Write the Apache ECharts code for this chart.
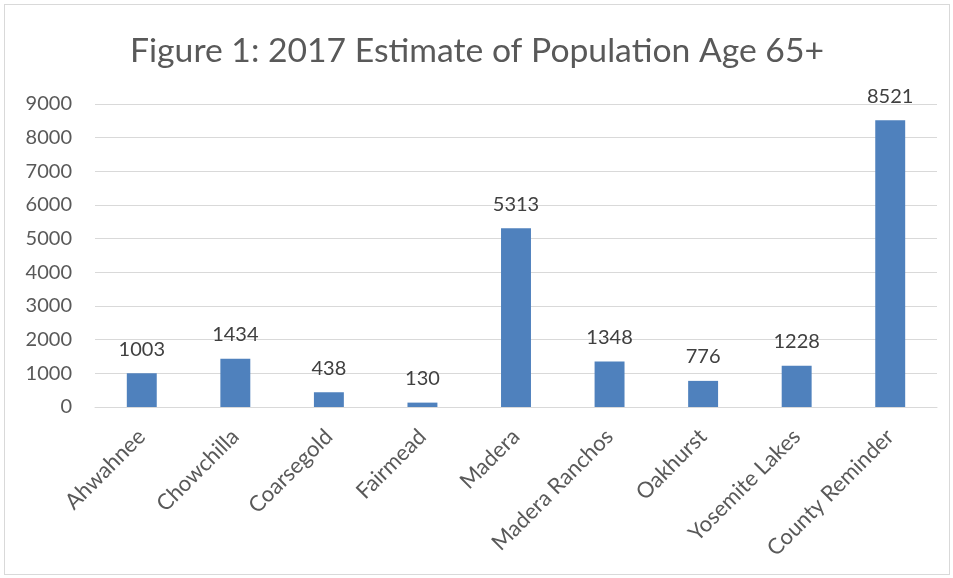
<!DOCTYPE html>
<html><head><meta charset="utf-8">
<script src="https://cdn.jsdelivr.net/npm/echarts@6/dist/echarts.min.js"></script>
<style>html,body{margin:0;padding:0;background:#fff}
#c{position:absolute;left:4px;top:4px;width:946px;height:571px;border:1px solid #d9d9d9;box-sizing:border-box}
</style></head><body><div id="c"></div>
<script>
const categories = ["Ahwahnee","Chowchilla","Coarsegold","Fairmead","Madera","Madera Ranchos","Oakhurst","Yosemite Lakes","County Reminder"];
const values = [1003,1434,438,130,5313,1348,776,1228,8521];
const chart = echarts.init(document.getElementById('c'));
const F = 'Lato, "Open Sans", sans-serif';
chart.setOption({
  animation:false,
  title:{text:'Figure 1: 2017 Estimate of Population Age 65+',left:'center',top:24,
    textStyle:{fontFamily:F,fontSize:33.7,fontWeight:'normal',color:'#595959'}},
  grid:{left:90,right:12,top:99,bottom:167,containLabel:false},
  xAxis:{type:'category',data:categories,
    axisLine:{lineStyle:{color:'#d9d9d9',width:1}},axisTick:{show:false},
    axisLabel:{rotate:45,interval:0,fontFamily:F,fontSize:22,color:'#595959',margin:26}},
  yAxis:{type:'value',min:0,max:9000,interval:1000,
    axisLine:{show:false},axisTick:{show:false},
    splitLine:{lineStyle:{color:'#d9d9d9',width:1}},
    axisLabel:{fontFamily:F,fontSize:20,color:'#595959',margin:23,formatter:v=>String(v)}},
  series:[{type:'bar',data:values,barWidth:'32%',itemStyle:{color:'#4F81BD'},
    label:{show:true,position:'top',distance:14,fontFamily:F,fontSize:20,color:'#404040'}}]
});
</script></body></html>
